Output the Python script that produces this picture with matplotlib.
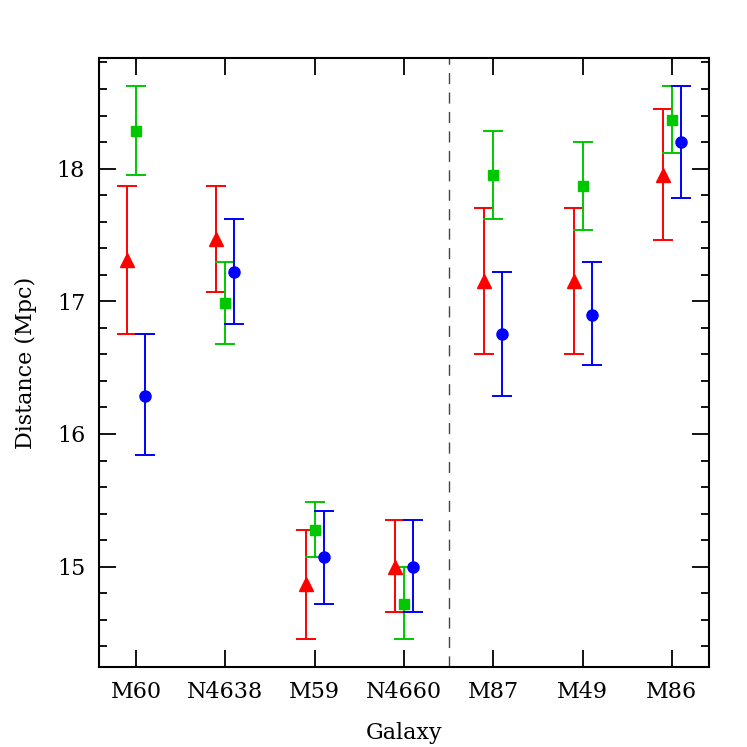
import matplotlib
matplotlib.use("Agg")
import matplotlib.pyplot as plt
import numpy as np
from matplotlib.ticker import MultipleLocator

plt.rcParams['font.family'] = 'DejaVu Serif'

galaxies = ["M60", "N4638", "M59", "N4660", "M87", "M49", "M86"]

# red triangles
red_val = [17.31, 17.47, 14.87, 15.00, 17.15, 17.15, 17.95]
red_lo = [16.75, 17.07, 14.455, 14.655, 16.60, 16.60, 17.46]
red_hi = [17.867, 17.867, 15.28, 15.35, 17.70, 17.70, 18.45]

# green squares
green_val = [18.286, 16.99, 15.28, 14.72, 17.95, 17.87, 18.37]
green_lo = [17.95, 16.68, 15.07, 14.455, 17.62, 17.54, 18.115]
green_hi = [18.625, 17.30, 15.49, 15.00, 18.286, 18.20, 18.625]

# blue circles
blue_val = [16.29, 17.22, 15.07, 15.00, 16.75, 16.90, 18.20]
blue_lo = [15.845, 16.83, 14.72, 14.655, 16.29, 16.52, 17.78]
blue_hi = [16.75, 17.62, 15.42, 15.35, 17.22, 17.30, 18.625]

fig = plt.figure(figsize=(7.47, 7.47), dpi=100)
ax = fig.add_axes([0.1325, 0.1071, 0.8166, 0.8153])

x = np.arange(len(galaxies))
series = [
    (red_val, red_lo, red_hi, -0.1, '^', '#ff0000', 10),
    (green_val, green_lo, green_hi, 0.0, 's', '#00c800', 7),
    (blue_val, blue_lo, blue_hi, 0.1, 'o', '#0000ff', 8),
]
for val, lo, hi, dx, mk, col, ms in series:
    val = np.array(val)
    err = [val - np.array(lo), np.array(hi) - val]
    ax.errorbar(x + dx, val, yerr=err, fmt=mk, color=col, ms=ms,
                elinewidth=1.4, capsize=7, capthick=1.4)

ax.axvline(3.5, color='#444444', ls=(0, (8, 6)), lw=1.0)

ax.set_xlim(-0.415, 6.415)
ax.set_ylim(14.244, 18.834)
ax.set_xticks(x)
ax.set_xticklabels(galaxies)
ax.yaxis.set_major_locator(MultipleLocator(1))
ax.yaxis.set_minor_locator(MultipleLocator(0.2))

for s in ax.spines.values():
    s.set_linewidth(1.5)
ax.tick_params(axis='both', which='major', direction='in', length=12, width=1.3,
               labelsize=16, pad=10)
ax.tick_params(axis='y', which='minor', direction='in', length=6, width=1.3)
ax.tick_params(axis='x', top=True)
ax.tick_params(axis='y', which='both', right=True)

ax.set_xlabel("Galaxy", fontsize=16, labelpad=14)
ax.set_ylabel("Distance (Mpc)", fontsize=16, labelpad=14)

fig.savefig("out.png", dpi=100)
